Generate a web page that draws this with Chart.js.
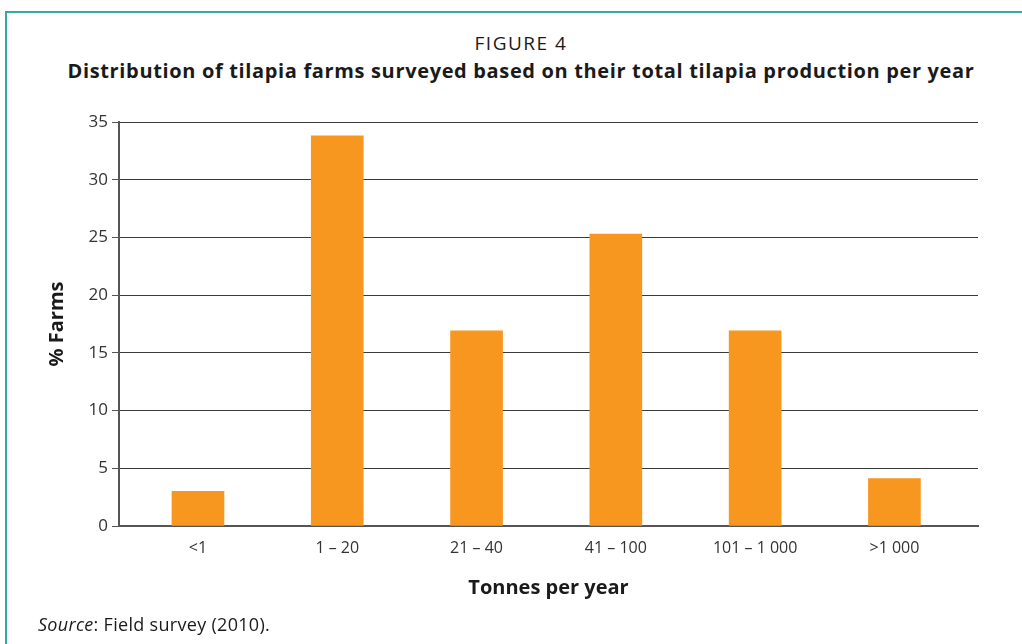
<!DOCTYPE html>
<html>
<head>
<meta charset="utf-8">
<script src="https://cdn.jsdelivr.net/npm/chart.js@4/dist/chart.umd.min.js"></script>
<style>
  html, body { margin: 0; padding: 0; background: #fff; }
  #wrap { position: relative; width: 1022px; height: 644px; overflow: hidden; font-family: "Open Sans", "Noto Sans", sans-serif; color: #1a1a1a; }
  #frame { position: absolute; left: 5px; top: 11px; width: 1100px; height: 700px; border-top: 2px solid #3aa7a3; border-left: 2px solid #3aa7a3; }
  #fig { position: absolute; left: 0; width: 1042px; top: 30px; text-align: center; font-size: 19px; letter-spacing: 1.5px; line-height: 26px; }
  #sub { position: absolute; left: 0; width: 1042px; top: 57px; text-align: center; font-size: 20px; letter-spacing: 0.65px; font-weight: bold; line-height: 28px; }
  #src { position: absolute; left: 38px; top: 611px; font-size: 18px; letter-spacing: 0.3px; line-height: 26px; }
  canvas { position: absolute; left: 0; top: 0; }
</style>
</head>
<body>
<div id="wrap">
  <div id="frame"></div>
  <div id="fig">FIGURE 4</div>
  <div id="sub">Distribution of tilapia farms surveyed based on their total tilapia production per year</div>
  <canvas id="c" width="1022" height="644"></canvas>
  <div id="src"><i>Source</i>: Field survey (2010).</div>
</div>
<script>
// Production classes (tonnes per year) and share of surveyed farms (%)
const categories = ['<1', '1 \u2013 20', '21 \u2013 40', '41 \u2013 100', '101 \u2013 1 000', '>1 000'];
const farmShare = [3.0, 33.8, 16.9, 25.3, 16.9, 4.1];
const yTicks = [0, 5, 10, 15, 20, 25, 30, 35];

const points = categories.map((c, i) => ({ x: i, y: farmShare[i] }));

new Chart(document.getElementById('c'), {
  type: 'bar',
  data: {
    datasets: [{
      data: points,
      backgroundColor: '#f7971f',
      borderWidth: 0,
      barThickness: 52
    }]
  },
  options: {
    responsive: false,
    animation: false,
    events: [],
    layout: { padding: { top: 122, right: 44, bottom: 0, left: 0 } },
    plugins: { legend: { display: false }, tooltip: { enabled: false } },
    scales: {
      x: {
        type: 'linear',
        offset: false,
        min: -0.567,
        max: 5.6,
        afterFit: s => { s.height = 118; },
        afterBuildTicks: s => { s.ticks = categories.map((c, i) => ({ value: i })); },
        grid: { display: false, drawTicks: false },
        border: { display: true, color: '#555', width: 2 },
        ticks: {
          padding: 13,
          color: '#333',
          font: { family: 'Open Sans', size: 16 },
          maxRotation: 0,
          autoSkip: false,
          callback: v => categories[v]
        },
        title: {
          display: true,
          text: 'Tonnes per year',
          color: '#1a1a1a',
          font: { family: 'Open Sans', size: 20, weight: 'bold' },
          padding: { top: 0, bottom: 44 }
        }
      },
      y: {
        min: 0,
        max: 35,
        afterFit: s => { s.width = 119; },
        afterBuildTicks: s => { s.ticks = yTicks.map(v => ({ value: v })); },
        grid: { color: '#3a3a3a', lineWidth: 1, tickLength: 7, drawTicks: true, tickColor: '#555' },
        border: { display: true, color: '#555', width: 2 },
        ticks: {
          padding: 4,
          color: '#333',
          font: { family: 'Open Sans', size: 17 }
        },
        title: {
          display: true,
          text: '% Farms',
          color: '#1a1a1a',
          font: { family: 'Open Sans', size: 20, weight: 'bold' },
          padding: { top: 45, bottom: 0 }
        }
      }
    }
  }
});
</script>
</body>
</html>
